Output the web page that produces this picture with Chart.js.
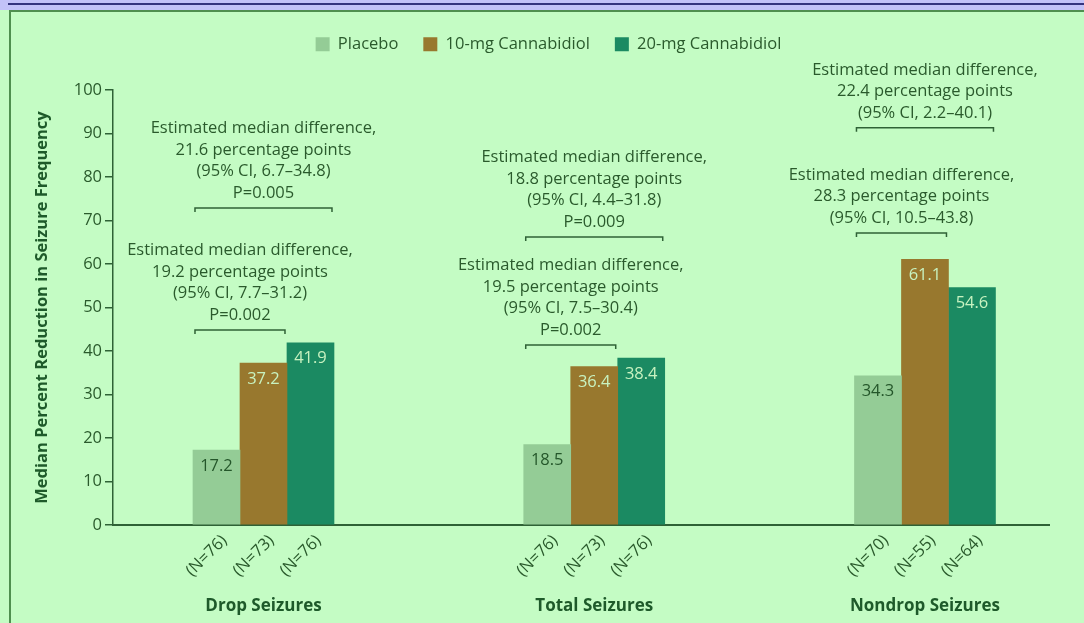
<!DOCTYPE html>
<html>
<head>
<meta charset="utf-8">
<script src="https://cdn.jsdelivr.net/npm/chart.js@4.4.1/dist/chart.umd.min.js"></script>
<style>
  html, body { margin: 0; padding: 0; }
  body { width: 1084px; height: 623px; background: #c4fcc4; position: relative; overflow: hidden; }
  .band { position: absolute; left: 0; top: 0; width: 1084px; height: 10px; background: #c2c2f8; }
  .band::after { content: ''; position: absolute; left: 8px; right: 0; top: 3px; height: 2px; background: #34347e; }
  .frame { position: absolute; left: 9px; top: 10px; right: -5px; bottom: -5px; border-left: 2px solid #4f8f4f; border-top: 2px solid #4f8f4f; }
  #wrap { position: absolute; left: 0; top: 0; width: 1084px; height: 623px; }
</style>
</head>
<body>
<div class="band"></div>
<div class="frame"></div>
<div id="wrap"><canvas id="chart"></canvas></div>
<script>
/* ===== Data ===== */
const groups = ['Drop Seizures', 'Total Seizures', 'Nondrop Seizures'];
const seriesNames = ['Placebo', '10-mg Cannabidiol', '20-mg Cannabidiol'];
const placebo = [17.2, 18.5, 34.3];
const cbd10 = [37.2, 36.4, 61.1];
const cbd20 = [41.9, 38.4, 54.6];
const nPlacebo = [76, 76, 70];
const nCbd10 = [73, 73, 55];
const nCbd20 = [76, 76, 64];
const yTicks = [0, 10, 20, 30, 40, 50, 60, 70, 80, 90, 100];

// comparison brackets: group index, compared arm (1 = 10 mg, 2 = 20 mg), bracket level on y axis
const comparisons = [
  { group: 0, to: 1, level: 44.8, lines: ['Estimated median difference,', '19.2 percentage points', '(95% CI, 7.7\u201331.2)', 'P=0.002'] },
  { group: 0, to: 2, level: 72.9, lines: ['Estimated median difference,', '21.6 percentage points', '(95% CI, 6.7\u201334.8)', 'P=0.005'] },
  { group: 1, to: 1, level: 41.4, lines: ['Estimated median difference,', '19.5 percentage points', '(95% CI, 7.5\u201330.4)', 'P=0.002'] },
  { group: 1, to: 2, level: 66.2, lines: ['Estimated median difference,', '18.8 percentage points', '(95% CI, 4.4\u201331.8)', 'P=0.009'] },
  { group: 2, to: 1, level: 67.1, lines: ['Estimated median difference,', '28.3 percentage points', '(95% CI, 10.5\u201343.8)'] },
  { group: 2, to: 2, level: 91.3, lines: ['Estimated median difference,', '22.4 percentage points', '(95% CI, 2.2\u201340.1)'] },
];

/* ===== Style ===== */
const FONT = '"Open Sans", "Noto Sans", sans-serif';
const INK = '#2a5a2c';
const AXIS = '#2f6236';
const barColors = ['#94cc96', '#98782e', '#1b8a62'];
const valueColors = ['#24562a', '#c8f2c0', '#c8f2c0'];

const seriesValues = [placebo, cbd10, cbd20];
const seriesN = [nPlacebo, nCbd10, nCbd20];

// legend height so the plot starts under it; legend sits a little right of centre
const legendSpace = {
  id: 'legendSpace',
  beforeInit(chart) {
    if (!chart.legend) return;
    const fit = chart.legend.fit;
    chart.legend.fit = function () { fit.call(this); this.height = 79; };
  },
  afterLayout(chart) {
    if (!chart.legend) return;
    chart.legend.left += 14;
    chart.legend.right += 14;
  }
};

const annotate = {
  id: 'annotate',
  afterDatasetsDraw(chart) {
    const { ctx } = chart;
    const y = chart.scales.y;
    const bars = [0, 1, 2].map(i => chart.getDatasetMeta(i).data);
    ctx.save();
    ctx.font = '16.5px ' + FONT;

    // values inside bars
    ctx.textAlign = 'center';
    ctx.textBaseline = 'middle';
    bars.forEach((elems, d) => elems.forEach((bar, g) => {
      ctx.fillStyle = valueColors[d];
      ctx.fillText(seriesValues[d][g].toFixed(1), bar.x, bar.y + 16);
    }));

    // (N=..) under each bar, slanted
    ctx.fillStyle = INK;
    ctx.textAlign = 'right';
    bars.forEach((elems, d) => elems.forEach((bar, g) => {
      ctx.save();
      ctx.translate(bar.x + 8, y.bottom + 13);
      ctx.rotate(-Math.PI / 4);
      ctx.fillText('(N=' + seriesN[d][g] + ')', 0, 0);
      ctx.restore();
    }));

    // brackets with estimates
    ctx.strokeStyle = AXIS;
    ctx.lineWidth = 1.5;
    ctx.textAlign = 'center';
    comparisons.forEach(c => {
      const a = bars[0][c.group];
      const b = bars[c.to][c.group];
      const x1 = a.x - a.width / 2 + 2;
      const x2 = b.x + b.width / 2 - 2;
      const yy = y.getPixelForValue(c.level);
      ctx.beginPath();
      ctx.moveTo(x1, yy + 4);
      ctx.lineTo(x1, yy);
      ctx.lineTo(x2, yy);
      ctx.lineTo(x2, yy + 4);
      ctx.stroke();
      const cx = (x1 + x2) / 2;
      const n = c.lines.length;
      c.lines.forEach((t, k) => ctx.fillText(t, cx, yy - 15 - (n - 1 - k) * 21.5));
    });
    ctx.restore();
  }
};

new Chart(document.getElementById('chart'), {
  type: 'bar',
  data: {
    datasets: seriesNames.map((name, d) => ({
      label: name,
      data: seriesValues[d].map((v, g) => ({ x: g, y: v })),
      backgroundColor: barColors[d],
      borderWidth: 0,
      barThickness: 47,
    })),
  },
  options: {
    responsive: true,
    maintainAspectRatio: false,
    animation: false,
    layout: { padding: { top: 11, left: 20, right: 35, bottom: 0 } },
    plugins: {
      tooltip: { enabled: false },
      legend: {
        position: 'top',
        labels: {
          color: INK,
          font: { family: FONT, size: 16.5 },
          boxWidth: 14,
          boxHeight: 14,
          padding: 25,
        },
      },
    },
    scales: {
      x: {
        type: 'linear',
        offset: false,
        min: -0.455,
        max: 2.375,
        grid: { display: false, drawTicks: false, offset: false },
        border: { display: true, color: AXIS, width: 2 },
        afterBuildTicks: (scale) => { scale.ticks = groups.map((_, i) => ({ value: i })); },
        afterFit: (scale) => { scale.height = 98; },
        ticks: {
          color: '#1e5a2a',
          font: { family: FONT, size: 17, weight: 'bold' },
          padding: 71,
          maxRotation: 0,
          callback: (v) => groups[v],
        },
      },
      y: {
        min: 0,
        max: 100,
        afterBuildTicks: (scale) => { scale.ticks = yTicks.map(v => ({ value: v })); },
        afterFit: (scale) => { scale.width = 93; },
        grid: { display: true, drawOnChartArea: false, drawTicks: true, tickLength: 8, color: AXIS, lineWidth: 1.5 },
        border: { display: true, color: AXIS, width: 1.5 },
        ticks: {
          color: INK,
          font: { family: FONT, size: 16.5 },
          padding: 3,
        },
        title: {
          display: true,
          text: 'Median Percent Reduction in Seizure Frequency',
          color: '#1e5a2a',
          font: { family: FONT, size: 16.5, weight: 'bold' },
          padding: { top: 12, bottom: 0 },
        },
      },
    },
  },
  plugins: [legendSpace, annotate],
});
</script>
</body>
</html>
